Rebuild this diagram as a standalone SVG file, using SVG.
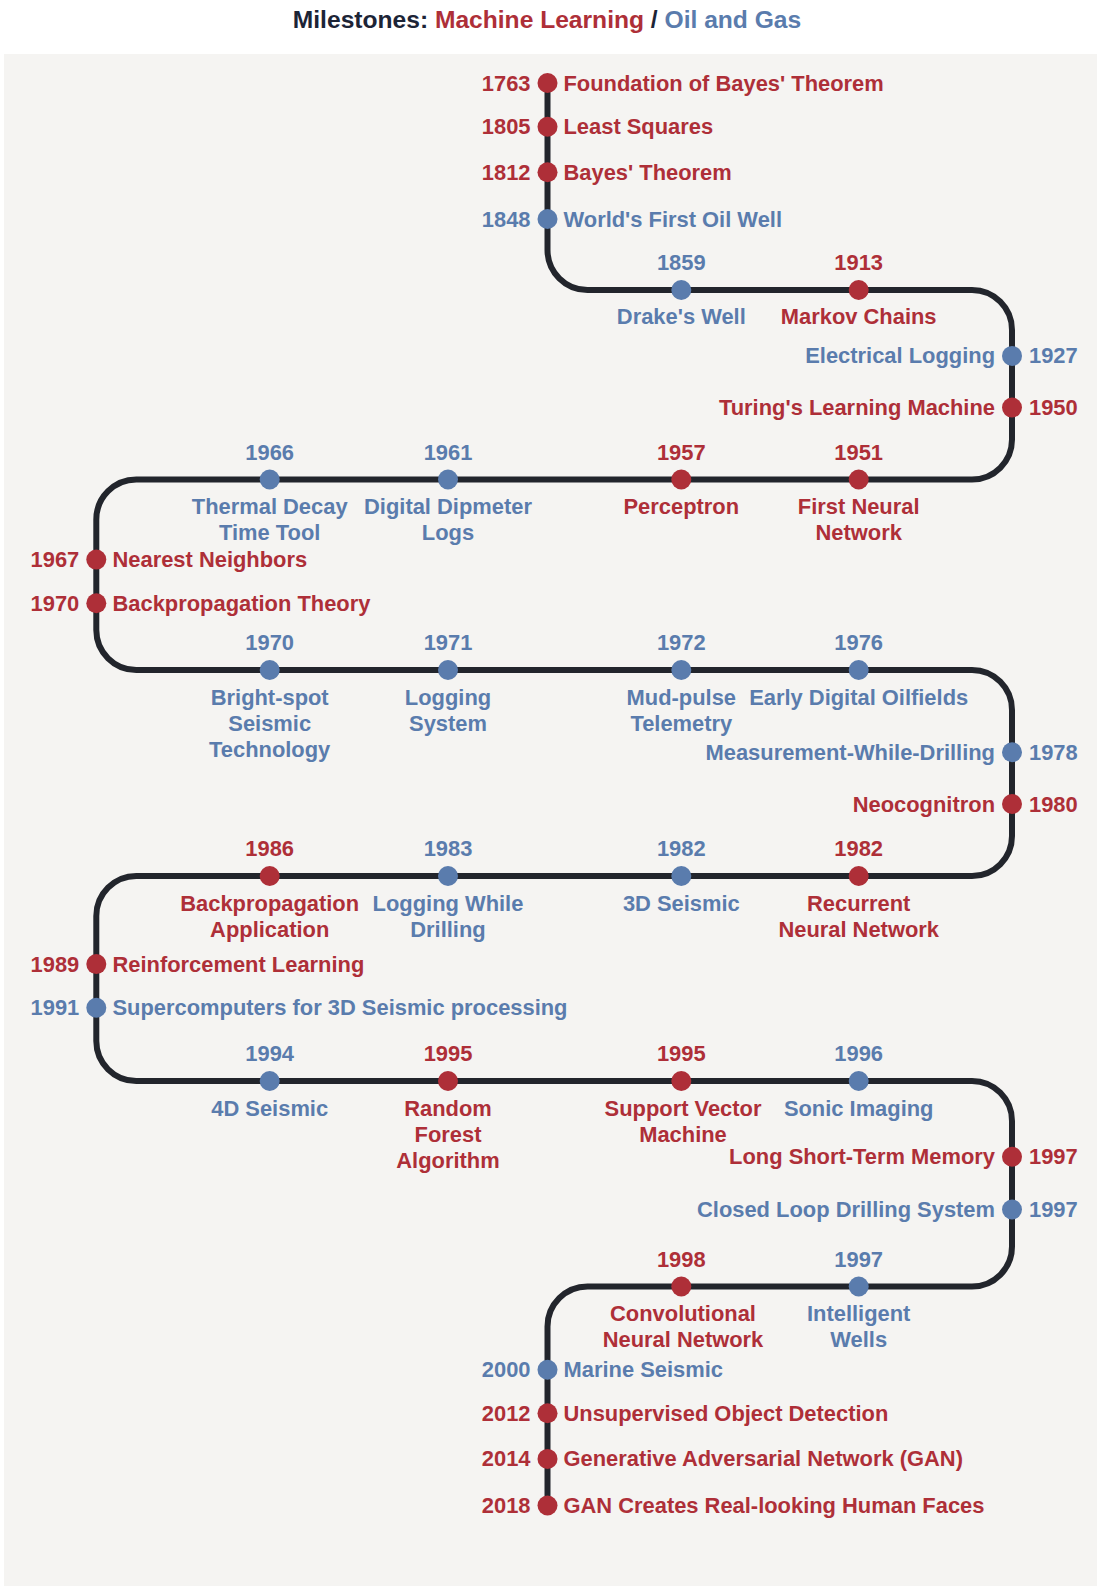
<svg xmlns="http://www.w3.org/2000/svg" width="1100" height="1589" viewBox="0 0 1100 1589">
<style>
text{font-family:"Liberation Sans",Arial,sans-serif;font-weight:bold;font-size:21.9px}
.r{fill:#ae2f38}.b{fill:#5a7cad}
.m{text-anchor:middle}.e{text-anchor:end}
.t{font-size:24.6px;fill:#1c2436}
.dr{fill:#ae2f38}.db{fill:#5a7cad}
</style>
<rect x="0" y="0" width="1100" height="1589" fill="#ffffff"/>
<rect x="4" y="54" width="1093" height="1532" fill="#f5f4f2"/>
<text class="t m" x="547" y="28">Milestones: <tspan class="r">Machine Learning</tspan> / <tspan class="b">Oil and Gas</tspan></text>
<g id="connectors">
<path d="M547.5 83 V250 A40 40 0 0 0 587.5 290 H972 A40 40 0 0 1 1012 330 V439.5 A40 40 0 0 1 972 479.5 H136.3 A40 40 0 0 0 96.3 519.5 V630 A40 40 0 0 0 136.3 670 H972 A40 40 0 0 1 1012 710 V836 A40 40 0 0 1 972 876 H136.3 A40 40 0 0 0 96.3 916 V1041 A40 40 0 0 0 136.3 1081 H972 A40 40 0 0 1 1012 1121 V1246.5 A40 40 0 0 1 972 1286.5 H587.5 A40 40 0 0 0 547.5 1326.5 V1505.5" fill="none" stroke="#22252c" stroke-width="6"/>
</g>
<g id="n1763"><circle class="dr" cx="547.5" cy="83" r="10"/><text class="r e" x="530.5" y="90.5">1763</text><text class="r" x="563.5" y="90.5">Foundation of Bayes' Theorem</text></g>
<g id="n1805"><circle class="dr" cx="547.5" cy="126.7" r="10"/><text class="r e" x="530.5" y="134.2">1805</text><text class="r" x="563.5" y="134.2">Least Squares</text></g>
<g id="n1812"><circle class="dr" cx="547.5" cy="172.3" r="10"/><text class="r e" x="530.5" y="179.8">1812</text><text class="r" x="563.5" y="179.8">Bayes' Theorem</text></g>
<g id="n1848"><circle class="db" cx="547.5" cy="219" r="10"/><text class="b e" x="530.5" y="226.5">1848</text><text class="b" x="563.5" y="226.5">World's First Oil Well</text></g>
<g id="n1859"><circle class="db" cx="681.3" cy="290" r="10"/><text class="b m" x="681.3" y="270">1859</text><text class="b m" x="681.3" y="324">Drake's Well</text></g>
<g id="n1913"><circle class="dr" cx="858.7" cy="290" r="10"/><text class="r m" x="858.7" y="270">1913</text><text class="r m" x="858.7" y="324">Markov Chains</text></g>
<g id="n1927"><circle class="db" cx="1012" cy="355.9" r="10"/><text class="b e" x="995" y="363.4">Electrical Logging</text><text class="b" x="1029" y="363.4">1927</text></g>
<g id="n1950"><circle class="dr" cx="1012" cy="407.6" r="10"/><text class="r e" x="995" y="415.1">Turing's Learning Machine</text><text class="r" x="1029" y="415.1">1950</text></g>
<g id="n1951"><circle class="dr" cx="858.7" cy="479.5" r="10"/><text class="r m" x="858.7" y="459.5">1951</text><text class="r m" x="858.7" y="514">First Neural<tspan x="858.7" dy="26">Network</tspan></text></g>
<g id="n1957"><circle class="dr" cx="681.3" cy="479.5" r="10"/><text class="r m" x="681.3" y="459.5">1957</text><text class="r m" x="681.3" y="514">Perceptron</text></g>
<g id="n1961"><circle class="db" cx="448" cy="479.5" r="10"/><text class="b m" x="448" y="459.5">1961</text><text class="b m" x="448" y="514">Digital Dipmeter<tspan x="448" dy="26">Logs</tspan></text></g>
<g id="n1966"><circle class="db" cx="269.7" cy="479.5" r="10"/><text class="b m" x="269.7" y="459.5">1966</text><text class="b m" x="269.7" y="514">Thermal Decay<tspan x="269.7" dy="26">Time Tool</tspan></text></g>
<g id="n1967"><circle class="dr" cx="96.3" cy="559.6" r="10"/><text class="r e" x="79.3" y="567.1">1967</text><text class="r" x="112.5" y="567.1">Nearest Neighbors</text></g>
<g id="n1970a"><circle class="dr" cx="96.3" cy="603.2" r="10"/><text class="r e" x="79.3" y="610.7">1970</text><text class="r" x="112.5" y="610.7">Backpropagation Theory</text></g>
<g id="n1970b"><circle class="db" cx="269.7" cy="670" r="10"/><text class="b m" x="269.7" y="650">1970</text><text class="b m" x="269.7" y="705">Bright-spot<tspan x="269.7" dy="26">Seismic</tspan><tspan x="269.7" dy="26">Technology</tspan></text></g>
<g id="n1971"><circle class="db" cx="448" cy="670" r="10"/><text class="b m" x="448" y="650">1971</text><text class="b m" x="448" y="705">Logging<tspan x="448" dy="26">System</tspan></text></g>
<g id="n1972"><circle class="db" cx="681.3" cy="670" r="10"/><text class="b m" x="681.3" y="650">1972</text><text class="b m" x="681.3" y="705">Mud-pulse<tspan x="681.3" dy="26">Telemetry</tspan></text></g>
<g id="n1976"><circle class="db" cx="858.7" cy="670" r="10"/><text class="b m" x="858.7" y="650">1976</text><text class="b m" x="858.7" y="705">Early Digital Oilfields</text></g>
<g id="n1978"><circle class="db" cx="1012" cy="752.3" r="10"/><text class="b e" x="995" y="759.8">Measurement-While-Drilling</text><text class="b" x="1029" y="759.8">1978</text></g>
<g id="n1980"><circle class="dr" cx="1012" cy="804" r="10"/><text class="r e" x="995" y="811.5">Neocognitron</text><text class="r" x="1029" y="811.5">1980</text></g>
<g id="n1982a"><circle class="dr" cx="858.7" cy="876" r="10"/><text class="r m" x="858.7" y="856">1982</text><text class="r m" x="858.7" y="910.5">Recurrent<tspan x="858.7" dy="26">Neural Network</tspan></text></g>
<g id="n1982b"><circle class="db" cx="681.3" cy="876" r="10"/><text class="b m" x="681.3" y="856">1982</text><text class="b m" x="681.3" y="910.5">3D Seismic</text></g>
<g id="n1983"><circle class="db" cx="448" cy="876" r="10"/><text class="b m" x="448" y="856">1983</text><text class="b m" x="448" y="910.5">Logging While<tspan x="448" dy="26">Drilling</tspan></text></g>
<g id="n1986"><circle class="dr" cx="269.7" cy="876" r="10"/><text class="r m" x="269.7" y="856">1986</text><text class="r m" x="269.7" y="910.5">Backpropagation<tspan x="269.7" dy="26">Application</tspan></text></g>
<g id="n1989"><circle class="dr" cx="96.3" cy="964.1" r="10"/><text class="r e" x="79.3" y="971.6">1989</text><text class="r" x="112.5" y="971.6">Reinforcement Learning</text></g>
<g id="n1991"><circle class="db" cx="96.3" cy="1007.7" r="10"/><text class="b e" x="79.3" y="1015.2">1991</text><text class="b" x="112.5" y="1015.2">Supercomputers for 3D Seismic processing</text></g>
<g id="n1994"><circle class="db" cx="269.7" cy="1081" r="10"/><text class="b m" x="269.7" y="1061">1994</text><text class="b m" x="269.7" y="1115.5">4D Seismic</text></g>
<g id="n1995a"><circle class="dr" cx="448" cy="1081" r="10"/><text class="r m" x="448" y="1061">1995</text><text class="r m" x="448" y="1115.5">Random<tspan x="448" dy="26">Forest</tspan><tspan x="448" dy="26">Algorithm</tspan></text></g>
<g id="n1995b"><circle class="dr" cx="681.3" cy="1081" r="10"/><text class="r m" x="681.3" y="1061">1995</text><text class="r m" x="683" y="1115.5">Support Vector<tspan x="683" dy="26">Machine</tspan></text></g>
<g id="n1996"><circle class="db" cx="858.7" cy="1081" r="10"/><text class="b m" x="858.7" y="1061">1996</text><text class="b m" x="858.7" y="1115.5">Sonic Imaging</text></g>
<g id="n1997a"><circle class="dr" cx="1012" cy="1156.8" r="10"/><text class="r e" x="995" y="1164.3">Long Short-Term Memory</text><text class="r" x="1029" y="1164.3">1997</text></g>
<g id="n1997b"><circle class="db" cx="1012" cy="1209.5" r="10"/><text class="b e" x="995" y="1217">Closed Loop Drilling System</text><text class="b" x="1029" y="1217">1997</text></g>
<g id="n1997c"><circle class="db" cx="858.7" cy="1286.5" r="10"/><text class="b m" x="858.7" y="1266.5">1997</text><text class="b m" x="858.7" y="1321">Intelligent<tspan x="858.7" dy="26">Wells</tspan></text></g>
<g id="n1998"><circle class="dr" cx="681.3" cy="1286.5" r="10"/><text class="r m" x="681.3" y="1266.5">1998</text><text class="r m" x="683" y="1321">Convolutional<tspan x="683" dy="26">Neural Network</tspan></text></g>
<g id="n2000"><circle class="db" cx="547.5" cy="1369.7" r="10"/><text class="b e" x="530.5" y="1377.2">2000</text><text class="b" x="563.5" y="1377.2">Marine Seismic</text></g>
<g id="n2012"><circle class="dr" cx="547.5" cy="1413.3" r="10"/><text class="r e" x="530.5" y="1420.8">2012</text><text class="r" x="563.5" y="1420.8">Unsupervised Object Detection</text></g>
<g id="n2014"><circle class="dr" cx="547.5" cy="1458.9" r="10"/><text class="r e" x="530.5" y="1466.4">2014</text><text class="r" x="563.5" y="1466.4">Generative Adversarial Network (GAN)</text></g>
<g id="n2018"><circle class="dr" cx="547.5" cy="1505.5" r="10"/><text class="r e" x="530.5" y="1513">2018</text><text class="r" x="563.5" y="1513">GAN Creates Real-looking Human Faces</text></g>
</svg>
